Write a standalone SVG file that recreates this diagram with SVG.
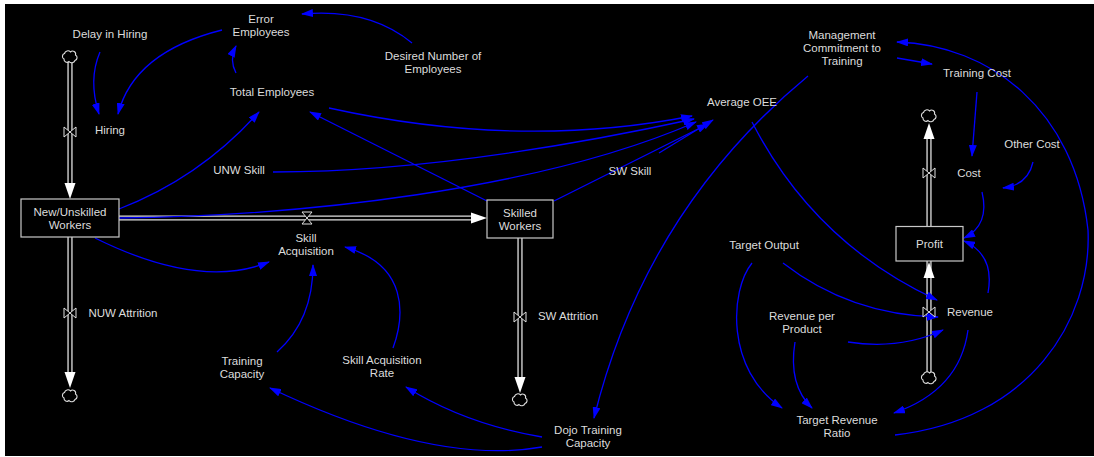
<svg xmlns="http://www.w3.org/2000/svg" xmlns:xlink="http://www.w3.org/1999/xlink" width="1094" height="457" viewBox="0 0 1094 457">
<style>
text{font-family:"Liberation Sans",Arial,sans-serif;font-size:11.5px;fill:#dcdcdc;text-anchor:middle}
.c{fill:none;stroke:#0000ff;stroke-width:1.3;marker-end:url(#ah)}
.box{fill:#000;stroke:#c8c8c8;stroke-width:1.2}
.pipeO{fill:none;stroke:#e0e0e0;stroke-width:5.2}
.pipeI{fill:none;stroke:#000;stroke-width:2.6}
.valve{fill:#000;stroke:#e0e0e0;stroke-width:1}
.parr{fill:#fff;stroke:none}
.cloud{fill:#000;stroke:#e0e0e0;stroke-width:1.1}
</style>
<defs>
<marker id="ah" markerWidth="12" markerHeight="8" refX="11" refY="4" orient="auto" markerUnits="userSpaceOnUse"><path d="M0,0 L12,4 L0,8 z" fill="#0000ff"/></marker>
<path id="cl" d="M-6,2 a3,3 0 0 1 0.5,-5.5 a3.5,3.5 0 0 1 6,-1.5 a3,3 0 0 1 5,3 a3,3 0 0 1 -0.5,5.5 a3.5,3.5 0 0 1 -6,1 a3,3 0 0 1 -5,-2.5 z"/>
<polygon id="bow" points="-6,-5 6,5 6,-5 -6,5"/>
</defs>
<rect x="0" y="0" width="1094" height="457" fill="#fff"/>
<rect x="5" y="4" width="1089" height="452" fill="#000"/>

<g id="flows">
<path class="pipeO" d="M70,62 V184 M70,237 V372 M119,218 H472 M520,238 V377 M929,139 V226 M929,261 V278 M929,278 V372"/>
<path class="pipeI" d="M70,62 V184 M70,237 V372 M119,218 H472 M520,238 V377 M929,139 V226 M929,261 V278 M929,278 V372"/>
<polygon class="parr" points="64.5,183 75.5,183 70,199"/>
<polygon class="parr" points="64.5,372 75.5,372 70,388"/>
<polygon class="parr" points="471,212.5 471,223.5 487,218"/>
<polygon class="parr" points="514.5,377 525.5,377 520,393"/>
<polygon class="parr" points="923.5,139 934.5,139 929,123"/>
<polygon class="parr" points="923.5,278 934.5,278 929,262"/>
</g>

<g id="clouds">
<use xlink:href="#cl" class="cloud" x="70" y="57"/>
<use xlink:href="#cl" class="cloud" x="70" y="396"/>
<use xlink:href="#cl" class="cloud" x="520" y="400"/>
<use xlink:href="#cl" class="cloud" x="929" y="116"/>
<use xlink:href="#cl" class="cloud" x="929" y="378"/>
</g>

<g id="connectors">
<path class="c" d="M100,52 Q88,80 99,114"/>
<path class="c" d="M222,30 Q134,52 118,114"/>
<path class="c" d="M412,43 Q370,8 302,14"/>
<path class="c" d="M236,73 Q229,60 236,46"/>
<path class="c" d="M119,209 Q200,178 259,112"/>
<path class="c" d="M487,201 L310,112"/>
<path class="c" d="M329,108 Q520,150 692,116"/>
<path class="c" d="M273,172 Q450,172 694,119"/>
<path class="c" d="M119,218 C300,216 540,190 696,122"/>
<path class="c" d="M659,153 L713,120"/>
<path class="c" d="M554,201 L708,124"/>
<path class="c" d="M95,238 Q200,290 269,262"/>
<path class="c" d="M277,352 Q313,320 313,265"/>
<path class="c" d="M393,348 C405,315 408,265 345,247"/>
<path class="c" d="M542,437 Q465,424 406,387"/>
<path class="c" d="M542,447 Q434,466 270,388"/>
<path class="c" d="M808,76 Q645,211 594,418"/>
<path class="c" d="M752,122 Q814,243 937,300"/>
<path class="c" d="M897,58 L932,64"/>
<path class="c" d="M895,435 C1030,420 1092,320 1088,230 C1075,110 990,45 897,42"/>
<path class="c" d="M977,92 L972,156"/>
<path class="c" d="M1033,162 Q1028,185 1003,188"/>
<path class="c" d="M982,192 Q990,225 964,238"/>
<path class="c" d="M988,293 Q995,255 964,241"/>
<path class="c" d="M783,263 Q850,315 938,317"/>
<path class="c" d="M848,342 Q900,350 943,330"/>
<path class="c" d="M968,330 Q960,390 894,413"/>
<path class="c" d="M752,263 C730,290 725,370 782,408"/>
<path class="c" d="M795,342 Q788,385 812,408"/>
</g>

<g id="delay-in-hiring"><text x="110" y="38">Delay in Hiring</text></g>
<g id="error-employees"><text x="261" y="23">Error</text><text x="261" y="36">Employees</text></g>
<g id="desired-number-of-employees"><text x="433" y="60">Desired Number of</text><text x="433" y="73">Employees</text></g>
<g id="total-employees"><text x="272" y="96">Total Employees</text></g>
<g id="hiring"><use xlink:href="#bow" class="valve" x="70" y="132"/><text x="110" y="134">Hiring</text></g>
<g id="unw-skill"><text x="239" y="174">UNW Skill</text></g>
<g id="sw-skill"><text x="630" y="175">SW Skill</text></g>
<g id="average-oee"><text x="742" y="106">Average OEE</text></g>
<g id="management-commitment"><text x="842" y="39">Management</text><text x="842" y="52">Commitment to</text><text x="842" y="65">Training</text></g>
<g id="training-cost"><text x="977" y="77">Training Cost</text></g>
<g id="other-cost"><text x="1032" y="148">Other Cost</text></g>
<g id="cost"><use xlink:href="#bow" class="valve" x="929" y="173"/><text x="969" y="177">Cost</text></g>
<g id="profit"><rect class="box" x="896" y="226.5" width="67" height="34.5"/><text x="929.5" y="248">Profit</text></g>
<g id="revenue"><use xlink:href="#bow" class="valve" x="929" y="312"/><text x="970" y="316">Revenue</text></g>
<g id="target-output"><text x="764" y="249">Target Output</text></g>
<g id="revenue-per-product"><text x="802" y="320">Revenue per</text><text x="802" y="333">Product</text></g>
<g id="target-revenue-ratio"><text x="837" y="424">Target Revenue</text><text x="837" y="437">Ratio</text></g>
<g id="new-unskilled-workers"><rect class="box" x="21" y="199" width="98" height="38"/><text x="70" y="216">New/Unskilled</text><text x="70" y="229">Workers</text></g>
<g id="skilled-workers"><rect class="box" x="487" y="200" width="66" height="38"/><text x="520" y="217">Skilled</text><text x="520" y="230">Workers</text></g>
<g id="skill-acquisition"><use xlink:href="#bow" class="valve" transform="translate(307,218) rotate(90)"/><text x="306" y="242">Skill</text><text x="306" y="255">Acquisition</text></g>
<g id="nuw-attrition"><use xlink:href="#bow" class="valve" x="70" y="313"/><text x="123" y="317">NUW Attrition</text></g>
<g id="sw-attrition"><use xlink:href="#bow" class="valve" x="520" y="317"/><text x="568" y="320">SW Attrition</text></g>
<g id="training-capacity"><text x="242" y="365">Training</text><text x="242" y="378">Capacity</text></g>
<g id="skill-acquisition-rate"><text x="382" y="364">Skill Acquisition</text><text x="382" y="377">Rate</text></g>
<g id="dojo-training-capacity"><text x="588" y="434">Dojo Training</text><text x="588" y="447">Capacity</text></g>
</svg>
